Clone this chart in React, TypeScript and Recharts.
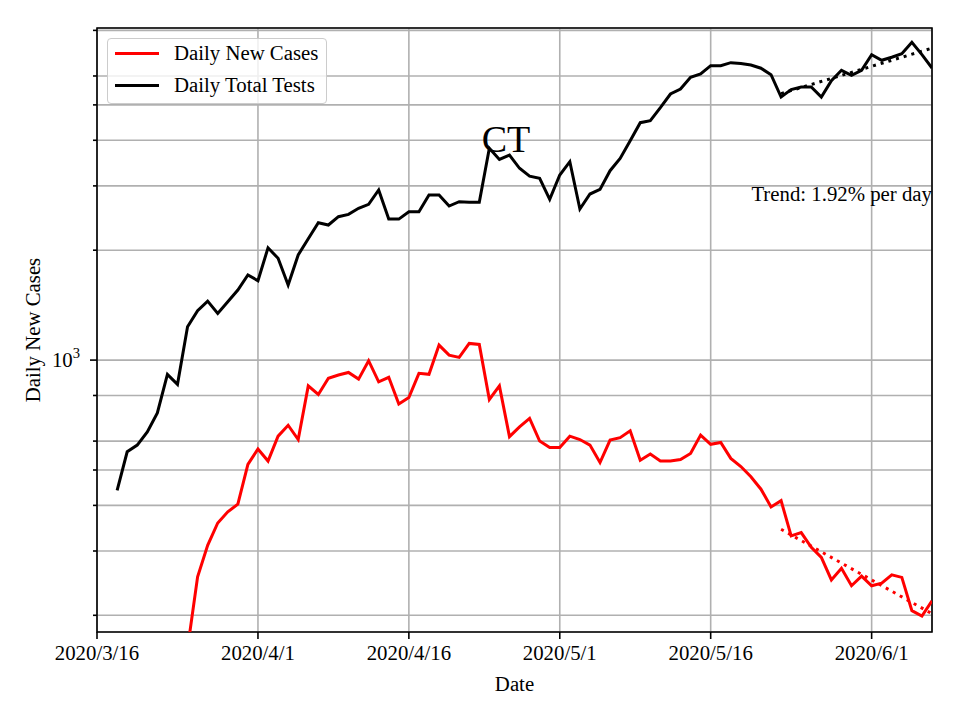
import { LineChart, Line, XAxis, YAxis, CartesianGrid, Legend, ReferenceArea, Customized } from "recharts";

const FONT = '"Liberation Serif", "Times New Roman", serif';

// x axis is days since 2020/3/16
const dateTicks = [0, 16, 31, 46, 61, 77];
const dateLabels = ["2020/3/16", "2020/4/1", "2020/4/16", "2020/5/1", "2020/5/16", "2020/6/1"];
const yTicks = [200, 300, 400, 500, 600, 700, 800, 900, 1000, 2000, 3000, 4000, 5000, 6000, 7000, 8000];

const testsStartDay = 2;
const totalTests = [
  440, 561, 585, 636, 717, 914, 858, 1234, 1365, 1450, 1342, 1445, 1555, 1710, 1650, 2030,
  1900, 1605, 1940, 2150, 2377, 2344, 2470, 2507, 2604, 2670, 2923, 2433, 2433, 2548, 2548,
  2832, 2832, 2642, 2715, 2705, 2705, 3802, 3545, 3644, 3352, 3191, 3146, 2755, 3213, 3495,
  2593, 2850, 2935, 3302, 3568, 3990, 4470, 4524, 4912, 5355, 5527, 5950, 6075, 6402, 6402,
  6525, 6490, 6430, 6300, 6047, 5254, 5504, 5598, 5598, 5254, 5824, 6219, 6026, 6219, 6864,
  6624, 6752, 6904, 7418, 6864, 6310,
];

const casesStartDay = 9;
const newCases = [
  162, 255, 311, 358, 384, 403, 518, 571, 529, 619, 663, 606, 850, 805, 892, 910, 925, 887,
  996, 872, 897, 758, 790, 920, 914, 1099, 1032, 1017, 1111, 1104, 780, 850, 617, 656, 692,
  600, 576, 576, 619, 606, 585, 524, 604, 613, 640, 532, 553, 529, 529, 534, 555, 623, 588,
  595, 538, 511, 479, 443, 396, 412, 330, 337, 307, 288, 250, 269, 241, 256, 241, 245, 258,
  254, 206, 199, 219,
];

// fitted trend end points (day 68 -> day 83)
const trendDays = [68, 83];
const testTrend = [5370, 7150];
const caseTrend = [344, 202];

const chartData = totalTests.map((v, i) => {
  const day = testsStartDay + i;
  const c = day - casesStartDay;
  return { day, tests: v, cases: c >= 0 ? newCases[c] : null };
});
const trendData = trendDays.map((day, i) => ({ day, tests: testTrend[i], cases: caseTrend[i] }));

const YTick = (props: any) => {
  const { x, y, payload } = props;
  const major = payload.value === 1000;
  return (
    <g>
      <line x1={x} x2={x - (major ? 7 : 4)} y1={y} y2={y} stroke="#000" strokeWidth={1.6} />
      {major && (
        <text x={x - 17} y={y + 7} textAnchor="end" fontFamily={FONT} fontSize={20.8} fill="#000">
          10<tspan dy={-9} fontSize={14.6}>3</tspan>
        </text>
      )}
    </g>
  );
};

const renderLegend = (props: any) => {
  const items = (props.payload || []).filter((p: any) => p.value === "Daily New Cases" || p.value === "Daily Total Tests");
  return (
    <div
      style={{
        width: 220,
        height: 66,
        boxSizing: "border-box",
        border: "1.6px solid #cccccc",
        borderRadius: 4,
        background: "rgba(255,255,255,0.8)",
        fontFamily: FONT,
        fontSize: 20.8,
        color: "#000",
        paddingTop: 0,
      }}
    >
      <div style={{ marginTop: -2 }}>
        {items.map((p: any) => (
          <div key={p.value} style={{ display: "flex", alignItems: "center", height: 32 }}>
            <div style={{ marginLeft: 7, width: 44, height: 3, background: p.color }} />
            <span style={{ marginLeft: 15, lineHeight: "32px" }}>{p.value}</span>
          </div>
        ))}
      </div>
    </div>
  );
};

export default function App() {
  return (
    <div style={{ position: "absolute", left: 0, top: 0, width: 960, height: 720, background: "#fff" }}>
      <LineChart width={960} height={720} data={chartData} margin={{ top: 28, right: 28, bottom: 24, left: 0 }}>
        <CartesianGrid stroke="#b0b0b0" strokeWidth={1.6} />
        <XAxis
          dataKey="day"
          type="number"
          domain={[0, 83]}
          allowDataOverflow
          ticks={dateTicks}
          tickFormatter={(v: number) => dateLabels[dateTicks.indexOf(v)]}
          height={64}
          tickSize={7}
          tickMargin={6}
          axisLine={false}
          tickLine={{ stroke: "#000", strokeWidth: 1.6 }}
          tick={{ fill: "#000", fontFamily: FONT, fontSize: 20.8 }}
          label={{ value: "Date", position: "insideBottom", offset: 5, fill: "#000", fontFamily: FONT, fontSize: 20.8 }}
        />
        <YAxis
          scale="log"
          domain={[180, 8120]}
          allowDataOverflow
          ticks={yTicks}
          width={97}
          tickSize={0}
          tickMargin={0}
          axisLine={false}
          tickLine={false}
          tick={<YTick />}
          label={{
            value: "Daily New Cases",
            angle: -90,
            position: "insideLeft",
            offset: 33,
            fill: "#000",
            fontFamily: FONT,
            fontSize: 20.8,
            style: { textAnchor: "middle" },
          }}
        />
        <ReferenceArea x1={0} x2={83} y1={180} y2={8120} fill="none" stroke="#000" strokeWidth={1.6} ifOverflow="visible" />
        <Line dataKey="cases" name="Daily New Cases" stroke="#ff0000" strokeWidth={3} dot={false} isAnimationActive={false} />
        <Line dataKey="tests" name="Daily Total Tests" stroke="#000000" strokeWidth={3} dot={false} isAnimationActive={false} />
        <Line
          data={trendData}
          dataKey="cases"
          name="case trend"
          legendType="none"
          stroke="#ff0000"
          strokeWidth={3}
          strokeDasharray="3 5"
          dot={false}
          isAnimationActive={false}
        />
        <Line
          data={trendData}
          dataKey="tests"
          name="test trend"
          legendType="none"
          stroke="#000000"
          strokeWidth={3}
          strokeDasharray="3 5"
          dot={false}
          isAnimationActive={false}
        />
        <Legend
          layout="vertical"
          align="center"
          verticalAlign="middle"
          content={renderLegend}
          wrapperStyle={{ left: 107, top: 38, width: 220, height: 66 }}
        />
        <Customized
          component={() => (
            <g fontFamily={FONT} fill="#000">
              <text x={506} y={152} textAnchor="middle" fontSize={38}>CT</text>
              <text x={932} y={201} textAnchor="end" fontSize={20.8}>Trend: 1.92% per day</text>
            </g>
          )}
        />
      </LineChart>
    </div>
  );
}
